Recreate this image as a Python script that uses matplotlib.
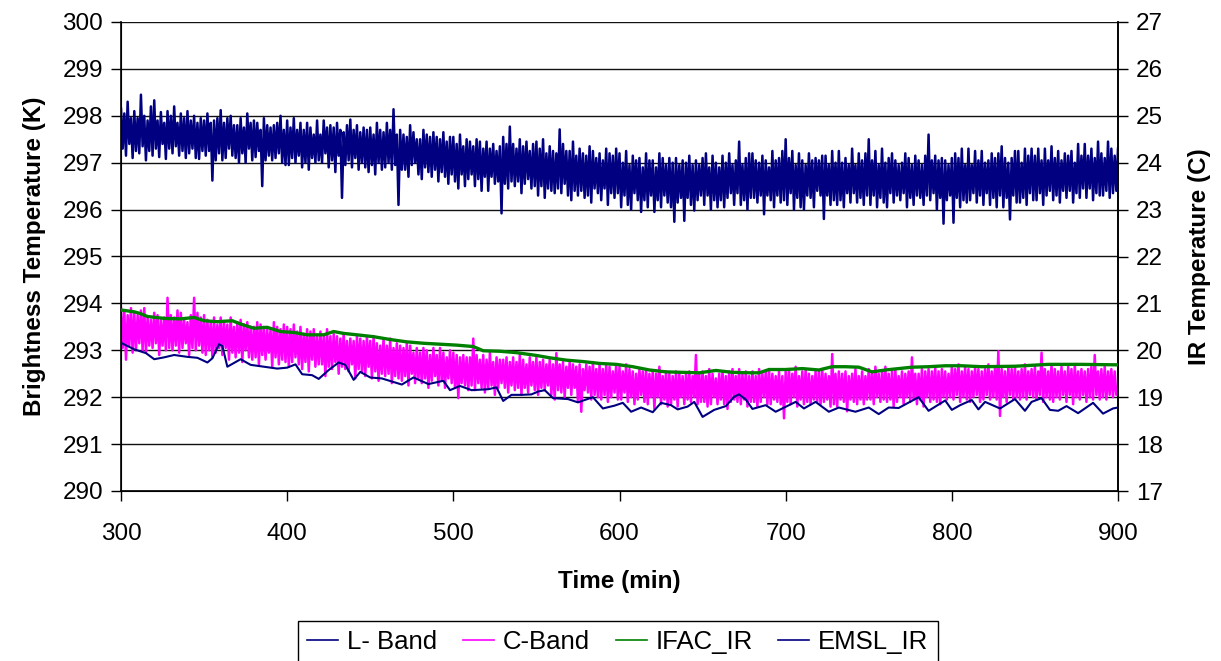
import numpy as np
import matplotlib
matplotlib.use("Agg")
import matplotlib.pyplot as plt

# ---------------- data ----------------
T_START, T_END, T_STEP = 300, 900, 1   # sampling of the two radiometer series (min)

L_BAND = [
    298.15, 297.30, 298.05, 297.15, 298.30, 297.40, 297.95, 297.10, 298.10, 297.25,
    297.95, 297.20, 298.45, 297.35, 298.00, 297.05, 297.90, 297.25, 298.20, 297.15,
    298.33, 297.30, 297.90, 297.12, 298.08, 297.40, 297.85, 297.08, 298.10, 297.30,
    298.00, 297.20, 298.20, 297.35, 297.85, 297.15, 298.05, 297.25, 297.95, 297.10,
    298.10, 297.20, 297.90, 297.30, 298.00, 297.10, 297.85, 297.08, 297.95, 297.25,
    297.90, 297.15, 298.05, 297.25, 297.85, 296.62, 297.90, 297.05, 297.95, 297.20,
    298.12, 297.05, 297.85, 297.10, 297.95, 297.30, 298.00, 297.15, 297.80, 297.10,
    297.80, 297.00, 297.95, 297.20, 297.75, 297.00, 298.05, 297.30, 297.85, 297.05,
    297.90, 297.12, 297.85, 297.25, 297.70, 296.50, 297.95, 297.05, 297.80, 297.15,
    297.75, 297.05, 297.80, 297.10, 297.85, 297.20, 298.00, 297.00, 297.70, 296.95,
    297.90, 296.95, 297.75, 297.10, 297.95, 297.00, 297.70, 297.15, 297.85, 296.90,
    297.70, 297.00, 297.85, 296.85, 297.75, 297.10, 297.60, 297.00, 297.90, 297.05,
    297.60, 297.00, 297.90, 297.20, 297.75, 296.90, 297.80, 297.05, 297.75, 296.80,
    297.85, 297.15, 297.70, 296.25, 297.65, 296.95, 297.80, 297.05, 297.92, 296.90,
    297.70, 297.10, 297.80, 296.85, 297.65, 297.00, 297.75, 296.90, 297.70, 296.80,
    297.75, 296.95, 297.60, 296.75, 297.85, 297.00, 297.70, 296.85, 297.65, 296.90,
    297.85, 297.00, 297.70, 296.85, 298.14, 296.95, 297.60, 296.10, 297.70, 296.85,
    297.60, 296.85, 297.55, 296.70, 297.80, 296.95, 297.65, 297.00, 297.50, 296.75,
    297.50, 296.65, 297.70, 296.90, 297.60, 296.80, 297.55, 296.70, 297.65, 296.85,
    297.55, 296.60, 297.50, 296.80, 297.65, 296.70, 297.45, 296.55, 297.55, 296.75,
    297.55, 296.60, 297.40, 296.45, 297.60, 296.75, 297.35, 296.50, 297.50, 296.65,
    297.45, 296.75, 297.35, 296.50, 297.50, 296.65, 297.45, 296.40, 297.30, 296.70,
    297.45, 296.40, 297.30, 296.70, 297.40, 296.55, 297.25, 296.60, 297.35, 295.92,
    297.55, 296.55, 297.40, 296.45, 297.77, 296.60, 297.40, 296.50, 297.30, 296.60,
    297.50, 296.35, 297.35, 296.55, 297.45, 296.65, 297.25, 296.45, 297.40, 296.50,
    297.45, 296.30, 297.30, 296.50, 297.50, 296.25, 297.20, 296.45, 297.35, 296.40,
    297.25, 296.35, 297.20, 296.45, 297.71, 296.35, 297.40, 296.55, 297.25, 296.30,
    297.25, 296.20, 297.45, 296.40, 297.15, 296.30, 297.30, 296.40, 297.20, 296.25,
    297.15, 296.30, 297.35, 296.15, 297.25, 296.45, 297.10, 296.35, 297.20, 296.20,
    297.05, 296.45, 297.30, 296.10, 297.20, 296.35, 297.15, 296.25, 297.30, 296.35,
    297.20, 296.05, 297.00, 296.30, 297.25, 296.10, 296.95, 296.00, 297.15, 296.35,
    297.05, 296.20, 297.10, 295.95, 296.90, 296.20, 297.20, 296.05, 297.05, 296.30,
    297.05, 295.95, 296.90, 296.20, 297.20, 296.05, 297.10, 296.30, 296.95, 296.15,
    297.10, 296.05, 297.00, 295.74, 297.10, 296.15, 296.95, 296.25, 297.05, 295.76,
    297.00, 296.25, 297.15, 296.10, 296.95, 295.98, 297.05, 296.20, 296.95, 296.30,
    297.10, 296.10, 297.20, 296.30, 296.90, 296.00, 297.15, 296.20, 297.00, 296.05,
    296.90, 296.20, 297.15, 296.05, 297.00, 296.25, 297.20, 296.35, 296.95, 296.10,
    297.05, 296.35, 297.45, 296.10, 296.95, 296.20, 297.10, 296.00, 297.20, 296.25,
    297.20, 296.25, 297.05, 296.15, 297.00, 296.30, 297.15, 295.90, 297.05, 296.30,
    296.90, 296.20, 297.25, 296.05, 297.05, 296.30, 297.10, 296.15, 297.25, 296.20,
    297.50, 296.10, 297.10, 296.35, 297.25, 296.00, 296.95, 296.25, 297.20, 296.05,
    297.05, 296.00, 296.95, 296.30, 297.20, 296.25, 297.05, 296.05, 297.10, 296.40,
    297.05, 296.30, 297.15, 295.80, 297.15, 296.30, 296.95, 296.10, 297.25, 296.20,
    297.00, 296.10, 297.25, 296.20, 297.00, 296.05, 297.10, 296.35, 296.95, 296.15,
    297.30, 296.35, 296.95, 296.15, 297.20, 296.25, 297.05, 296.10, 297.20, 296.30,
    297.50, 296.10, 297.05, 296.30, 297.25, 296.05, 296.95, 296.25, 297.30, 296.15,
    297.00, 296.05, 297.10, 296.35, 297.20, 296.15, 297.05, 296.30, 296.95, 296.20,
    297.00, 296.35, 297.20, 296.05, 297.10, 296.25, 296.95, 296.10, 297.15, 296.30,
    297.05, 296.25, 296.95, 296.10, 297.15, 296.30, 297.60, 296.20, 297.05, 296.35,
    297.15, 296.00, 297.05, 296.25, 297.10, 295.70, 297.05, 296.20, 296.95, 296.30,
    297.10, 295.72, 297.20, 296.25, 297.10, 296.05, 297.30, 296.20, 296.95, 296.15,
    297.30, 296.20, 296.95, 296.35, 297.25, 296.15, 297.05, 296.30, 297.25, 296.10,
    297.00, 296.35, 297.05, 296.10, 297.20, 296.25, 297.10, 296.05, 297.20, 296.30,
    297.35, 296.05, 297.10, 296.25, 297.00, 295.79, 297.10, 296.30, 297.25, 296.15,
    297.25, 296.15, 297.00, 296.25, 297.30, 296.10, 297.15, 296.35, 297.30, 296.20,
    297.15, 296.20, 297.30, 296.35, 297.05, 296.10, 297.30, 296.30, 297.05, 296.40,
    297.35, 296.20, 297.10, 296.30, 297.25, 296.15, 297.05, 296.40, 297.20, 296.25,
    297.15, 296.40, 297.25, 296.15, 297.00, 296.35, 297.40, 296.25, 297.15, 296.45,
    297.40, 296.25, 297.15, 296.45, 297.30, 296.20, 297.10, 296.35, 297.45, 296.30,
    297.20, 296.30, 297.10, 296.40, 297.45, 296.25, 297.30, 296.35, 297.15, 296.40,
    297.30,
]

C_BAND = [
    293.90, 293.05, 293.85, 292.80, 293.75, 293.10, 293.90, 292.95, 293.80, 293.00,
    293.75, 293.15, 293.85, 293.00, 293.90, 292.95, 293.70, 293.10, 293.65, 293.05,
    293.80, 293.15, 293.75, 292.90, 293.65, 293.10, 293.70, 293.00, 294.12, 293.05,
    293.75, 293.00, 293.70, 293.10, 293.85, 292.95, 293.80, 293.05, 293.65, 293.15,
    293.60, 292.90, 293.75, 293.05, 294.12, 293.00, 293.80, 293.10, 293.70, 292.95,
    293.75, 292.90, 293.65, 293.00, 293.60, 292.85, 293.70, 292.95, 293.55, 293.05,
    293.70, 292.90, 293.60, 293.05, 293.55, 292.80, 293.70, 292.95, 293.50, 292.85,
    293.60, 292.95, 293.65, 292.75, 293.55, 293.00, 293.60, 292.85, 293.50, 292.80,
    293.50, 292.85, 293.60, 292.70, 293.55, 292.90, 293.50, 292.80, 293.45, 292.95,
    293.45, 292.65, 293.60, 292.85, 293.50, 292.70, 293.45, 292.80, 293.55, 292.75,
    293.50, 292.65, 293.45, 292.75, 293.55, 292.85, 293.40, 292.70, 293.50, 292.60,
    293.35, 292.75, 293.45, 292.55, 293.40, 292.80, 293.45, 292.65, 293.30, 292.70,
    293.40, 292.70, 293.30, 292.45, 293.45, 292.65, 293.30, 292.60, 293.35, 292.75,
    293.30, 292.50, 293.25, 292.65, 293.35, 292.60, 293.20, 292.55, 293.25, 292.70,
    293.20, 292.40, 293.30, 292.60, 293.25, 292.55, 293.20, 292.45, 293.30, 292.65,
    293.20, 292.40, 293.30, 292.55, 293.15, 292.35, 293.10, 292.50, 293.25, 292.45,
    293.10, 292.50, 293.25, 292.30, 293.05, 292.45, 293.15, 292.40, 293.10, 292.35,
    293.05, 292.45, 293.15, 292.25, 293.10, 292.50, 292.95, 292.30, 293.05, 292.40,
    292.95, 292.30, 293.05, 292.40, 293.00, 292.20, 292.90, 292.35, 293.05, 292.45,
    292.90, 292.25, 293.05, 292.35, 292.95, 292.20, 292.85, 292.40, 293.00, 292.30,
    292.95, 292.20, 292.90, 291.98, 292.85, 292.30, 292.90, 292.25, 292.85, 292.15,
    292.85, 292.25, 293.25, 292.15, 292.90, 292.30, 292.80, 292.20, 292.90, 292.10,
    292.80, 292.20, 292.95, 292.25, 292.75, 292.05, 292.85, 292.20, 292.80, 292.30,
    292.80, 292.20, 292.85, 292.10, 292.75, 292.25, 292.85, 292.15, 292.75, 292.20,
    292.90, 292.05, 292.80, 292.20, 292.70, 292.10, 292.85, 292.25, 292.75, 292.15,
    292.85, 292.05, 292.75, 292.20, 292.80, 292.15, 292.70, 292.25, 292.80, 292.05,
    292.70, 291.95, 292.94, 292.15, 292.70, 292.10, 292.75, 292.00, 292.65, 292.20,
    292.75, 292.05, 292.70, 292.20, 292.65, 291.90, 292.70, 291.69, 292.60, 292.15,
    292.70, 292.10, 292.65, 291.95, 292.75, 292.05, 292.60, 292.00, 292.70, 291.95,
    292.60, 292.05, 292.70, 291.90, 292.65, 292.00, 292.55, 292.10, 292.70, 291.95,
    292.65, 291.95, 292.55, 292.10, 292.70, 291.90, 292.60, 292.00, 292.55, 291.85,
    292.50, 291.95, 292.60, 292.05, 292.55, 291.90, 292.60, 291.85, 292.50, 292.00,
    292.55, 291.75, 292.50, 292.00, 292.65, 291.85, 292.45, 291.95, 292.55, 291.80,
    292.50, 291.85, 292.45, 291.95, 292.55, 291.80, 292.50, 292.00, 292.45, 291.85,
    292.50, 291.95, 292.55, 291.90, 292.45, 292.00, 292.90, 291.85, 292.50, 291.90,
    292.55, 291.90, 292.45, 291.80, 292.60, 291.85, 292.50, 292.00, 292.40, 291.85,
    292.50, 291.95, 292.55, 291.85, 292.45, 291.75, 292.55, 291.90, 292.60, 291.95,
    292.45, 291.90, 292.60, 291.85, 292.50, 291.95, 292.55, 291.80, 292.45, 291.90,
    292.55, 291.90, 292.45, 291.80, 292.60, 291.90, 292.50, 292.00, 292.55, 291.85,
    292.60, 291.85, 292.50, 291.95, 292.45, 291.90, 292.55, 291.85, 292.45, 291.55,
    292.55, 291.90, 292.60, 291.85, 292.50, 292.00, 292.65, 291.80, 292.45, 291.95,
    292.55, 291.85, 292.60, 291.90, 292.50, 291.85, 292.45, 291.95, 292.55, 291.90,
    292.55, 291.85, 292.60, 291.90, 292.50, 291.95, 292.45, 291.80, 292.92, 291.85,
    292.50, 291.80, 292.55, 291.95, 292.50, 291.90, 292.55, 291.70, 292.45, 291.95,
    292.50, 291.90, 292.60, 291.85, 292.45, 291.95, 292.55, 291.85, 292.45, 291.95,
    292.60, 291.95, 292.55, 291.85, 292.65, 292.00, 292.50, 291.90, 292.55, 291.95,
    292.65, 291.90, 292.50, 291.95, 292.55, 291.80, 292.60, 291.90, 292.45, 292.00,
    292.55, 291.85, 292.50, 292.00, 292.55, 291.90, 292.85, 291.95, 292.50, 291.85,
    292.50, 291.95, 292.60, 291.80, 292.55, 292.00, 292.60, 291.90, 292.55, 291.95,
    292.65, 291.90, 292.55, 291.85, 292.60, 292.00, 292.55, 291.95, 292.50, 292.00,
    292.65, 291.95, 292.60, 292.05, 292.70, 291.90, 292.55, 292.00, 292.65, 291.95,
    292.60, 291.90, 292.55, 292.00, 292.65, 292.05, 292.60, 291.90, 292.55, 291.95,
    292.60, 292.05, 292.70, 291.95, 292.55, 292.00, 292.65, 291.95, 292.98, 291.60,
    292.60, 292.00, 292.55, 291.90, 292.65, 292.05, 292.60, 291.95, 292.65, 292.00,
    292.55, 291.95, 292.60, 292.00, 292.70, 291.95, 292.55, 292.05, 292.60, 292.00,
    292.65, 291.95, 292.55, 292.05, 292.95, 291.90, 292.60, 292.00, 292.55, 291.95,
    292.70, 291.90, 292.60, 292.00, 292.55, 291.95, 292.65, 292.05, 292.55, 291.90,
    292.65, 292.05, 292.60, 291.85, 292.70, 292.00, 292.55, 291.95, 292.60, 292.05,
    292.55, 291.90, 292.60, 292.00, 292.65, 291.95, 292.90, 292.05, 292.55, 291.95,
    292.60, 292.00, 292.65, 291.95, 292.55, 292.05, 292.60, 292.00, 292.55, 292.05,
    292.15,
]

IFAC_T = [300, 308, 311, 316, 326, 336, 344, 350, 358, 367, 372, 380, 388, 396, 404,
          412, 422, 428, 434, 442, 452, 462, 472, 482, 492, 502, 512, 518, 528, 538,
          550, 558, 568, 578, 588, 598, 608, 618, 628, 638, 648, 658, 668, 678, 684,
          690, 700, 710, 720, 728, 736, 744, 752, 760, 768, 776, 786, 796, 806, 818,
          838, 858, 878, 900]
IFAC_IR = [20.86, 20.82, 20.79, 20.72, 20.68, 20.67, 20.70, 20.63, 20.61, 20.63, 20.56,
           20.47, 20.49, 20.40, 20.38, 20.33, 20.33, 20.40, 20.36, 20.33, 20.29, 20.23,
           20.18, 20.15, 20.13, 20.11, 20.08, 19.99, 19.98, 19.95, 19.89, 19.84, 19.79,
           19.76, 19.72, 19.70, 19.65, 19.58, 19.54, 19.53, 19.52, 19.57, 19.53, 19.52,
           19.52, 19.59, 19.59, 19.61, 19.58, 19.65, 19.65, 19.64, 19.54, 19.58, 19.61,
           19.64, 19.65, 19.67, 19.67, 19.65, 19.66, 19.70, 19.70, 19.69]

EMSL_T = [300, 308, 315, 320, 326, 332, 340, 346, 352, 355, 359, 361, 364, 367, 372,
          378, 386, 394, 400, 405, 409, 415, 419, 425, 431, 435, 440, 444, 450, 457,
          469, 476, 485, 494, 498, 504, 511, 521, 526, 530, 535, 541, 547, 551, 555,
          560, 569, 575, 584, 590, 597, 602, 607, 613, 620, 625, 631, 635, 641, 645,
          650, 657, 664, 669, 672, 676, 680, 688, 694, 706, 711, 718, 726, 732, 742,
          750, 756, 762, 768, 780, 786, 796, 800, 805, 812, 816, 820, 829, 838, 844,
          848, 854, 859, 864, 869, 876, 885, 891, 897, 900]
EMSL_IR = [20.16, 20.02, 19.94, 19.81, 19.85, 19.90, 19.86, 19.84, 19.74, 19.83, 20.13,
           20.09, 19.65, 19.71, 19.81, 19.69, 19.65, 19.61, 19.63, 19.70, 19.49, 19.47,
           19.39, 19.58, 19.74, 19.69, 19.37, 19.54, 19.42, 19.40, 19.27, 19.42, 19.28,
           19.35, 19.15, 19.24, 19.15, 19.17, 19.21, 18.92, 19.05, 19.05, 19.06, 19.12,
           19.15, 18.98, 18.96, 18.89, 19.00, 18.76, 18.82, 18.88, 18.69, 18.78, 18.68,
           18.88, 18.83, 18.74, 18.80, 18.90, 18.58, 18.73, 18.81, 19.01, 19.06, 18.95,
           18.75, 18.83, 18.69, 18.90, 18.76, 18.90, 18.69, 18.78, 18.69, 18.78, 18.64,
           18.78, 18.77, 19.00, 18.71, 18.93, 18.73, 18.83, 18.94, 18.74, 18.90, 18.76,
           18.96, 18.71, 18.90, 18.98, 18.73, 18.71, 18.81, 18.66, 18.88, 18.65, 18.76,
           18.78]

SERIES_NAMES = ["L- Band", "C-Band", "IFAC_IR", "EMSL_IR"]
X_TICKS = [300, 400, 500, 600, 700, 800, 900]
Y_TICKS_K = list(range(290, 301))
Y_TICKS_C = list(range(17, 28))

# ---------------- figure ----------------
FONT = ["Liberation Sans", "DejaVu Sans"]
plt.rcParams["font.family"] = FONT

W, H = 1221, 661
fig = plt.figure(figsize=(W / 100, H / 100), dpi=100)
ax = fig.add_axes([121 / W, 1 - 491 / H, 997 / W, 469 / H])

t = np.arange(T_START, T_END + 1, T_STEP)
assert len(t) == len(L_BAND) == len(C_BAND)
navy = "#000080"
magenta = "#FF00FF"
green = "#008000"

l1, = ax.plot(t, L_BAND, color=navy, lw=1.8, label=SERIES_NAMES[0], zorder=3)
l2, = ax.plot(t, C_BAND, color=magenta, lw=1.8, label=SERIES_NAMES[1], zorder=3)

ax.set_xlim(300, 900)
ax.set_ylim(290, 300)
ax.set_xticks(X_TICKS)
ax.set_yticks(Y_TICKS_K)
ax.yaxis.grid(True, color="#111111", lw=1.0, zorder=0)
ax.set_axisbelow(True)
ax.tick_params(axis="both", direction="out", length=7, width=1, labelsize=17.5,
               colors="black", pad=6)
ax.tick_params(axis="x", pad=16)
for s in ["left", "bottom", "right"]:
    ax.spines[s].set_linewidth(1.2)
ax.spines["top"].set_visible(False)
ax.set_xlabel("Time (min)", fontsize=17.5, fontweight="bold", labelpad=18)
ax.set_ylabel("Brightness Temperature (K)", fontsize=17.5, fontweight="bold", labelpad=12)

ax2 = ax.twinx()
l3, = ax2.plot(IFAC_T, IFAC_IR, color=green, lw=2.4, label=SERIES_NAMES[2], zorder=3)
l4, = ax2.plot(EMSL_T, EMSL_IR, color=navy, lw=1.5, label=SERIES_NAMES[3], zorder=3)
ax2.set_ylim(17, 27)
ax2.set_yticks(Y_TICKS_C)
ax2.tick_params(axis="y", direction="out", length=7, width=1, labelsize=17.5, pad=6)
ax2.spines["top"].set_visible(False)
ax2.spines["right"].set_linewidth(1.2)
ax2.set_ylabel("IR Temperature (C)", fontsize=17.5, fontweight="bold", labelpad=18)

leg = fig.legend([l1, l2, l3, l4], SERIES_NAMES, loc="upper center",
                 bbox_to_anchor=(618 / W, 1 - 621 / H), ncol=4, frameon=True,
                 fancybox=False, edgecolor="black", framealpha=1,
                 prop={"family": FONT, "size": 18.5},
                 handlelength=1.2, handletextpad=0.35, columnspacing=1.0,
                 borderpad=0.35, borderaxespad=0)
leg.get_frame().set_linewidth(1.0)
for h in leg.legend_handles:
    h.set_linewidth(1.2)

fig.savefig("out.png", dpi=100)
